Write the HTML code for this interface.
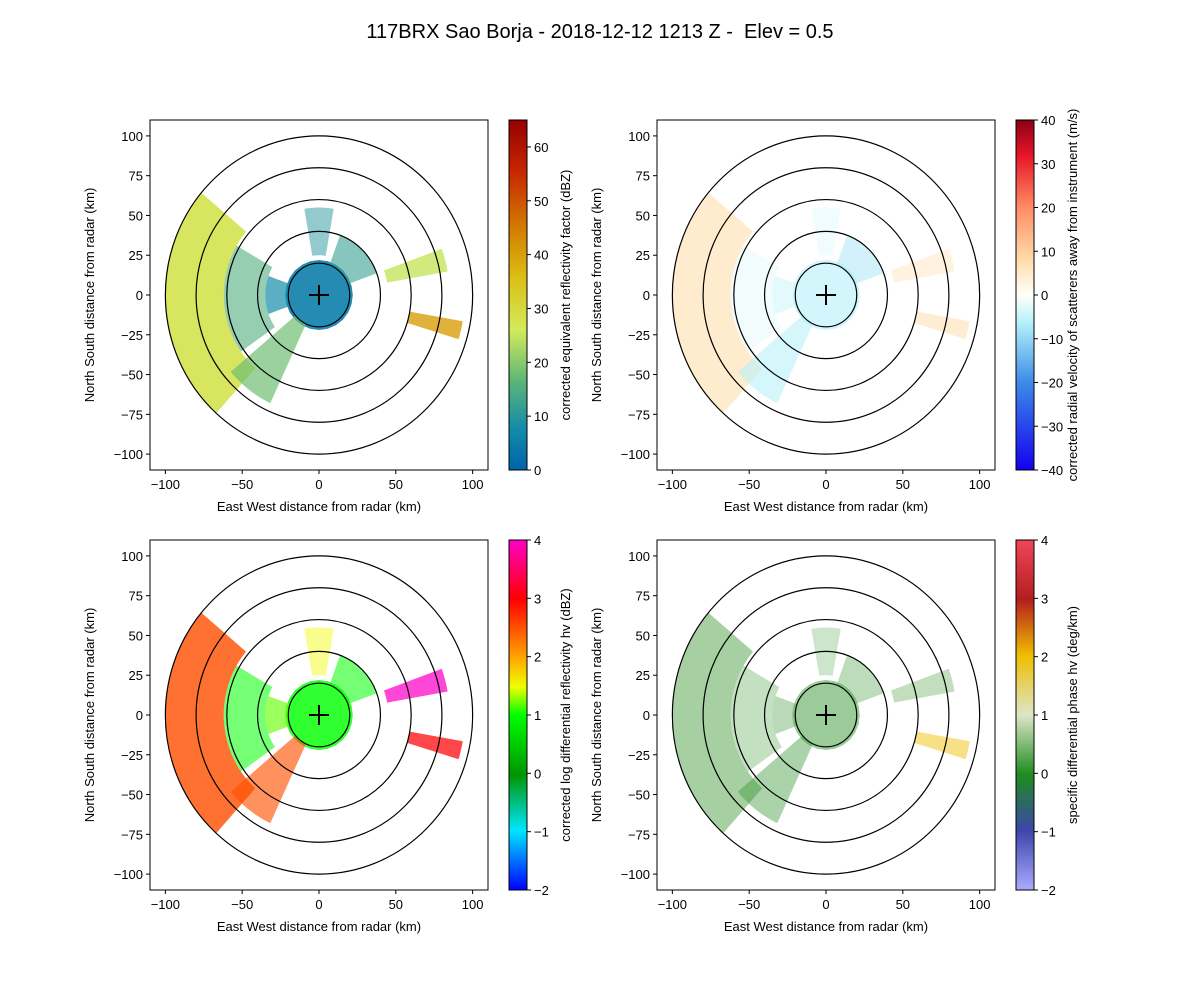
<!DOCTYPE html>
<html><head><meta charset="utf-8">
<style>
html,body{margin:0;padding:0;background:#fff;}
svg{display:block;font-family:"Liberation Sans","DejaVu Sans",sans-serif;}
</style></head>
<body>
<svg id="fig" width="1200" height="1000" viewBox="0 0 1200 1000">
<text x="600" y="38" font-size="20" text-anchor="middle" style="white-space:pre">117BRX Sao Borja - 2018-12-12 1213 Z -  Elev = 0.5</text>
</svg>
<script>
// ---- data ----
const axisTicks = [-100, -50, 0, 50, 100];
const ringRanges = [20, 40, 60, 80, 100];
// echo sectors: azimuth start/end (math deg), range start/end (km)
const echoAz1 = [140, 150, 0, 220, 10, 343, 80, 20, 160];
const echoAz2 = [228, 215, 360, 245, 20, 350, 100, 70, 200];
const echoR1  = [62, 35, 0, 20, 45, 60, 25, 20, 20];
const echoR2  = [100, 62, 22, 75, 85, 95, 55, 40, 35];
const reflectivity = [28, 15, 5, 18, 25, 40, 10, 12, 8];
const velocity     = [6, -2, -5, -6, 4, 6, -3, -8, -4];
const zdrValues    = [2.5, 1, 1, 2.5, 4, 3, 1.5, 1, 1.2];
const kdpValues    = [0.3, 0.3, 0.2, 0.1, 0.5, 2, 0.3, 0.2, 0.3];
const cbarTicks1 = [0, 10, 20, 30, 40, 50, 60];
const cbarTicks2 = [-40, -30, -20, -10, 0, 10, 20, 30, 40];
const cbarTicks3 = [-2, -1, 0, 1, 2, 3, 4];
const cbarTicks4 = [-2, -1, 0, 1, 2, 3, 4];

const NS = "http://www.w3.org/2000/svg";
const fig = document.getElementById('fig');
function mk(tag, attrs, parent){const e=document.createElementNS(NS,tag);for(const k in attrs)e.setAttribute(k,attrs[k]);(parent||fig).appendChild(e);return e;}
function lerp(a,b,t){return a+(b-a)*t;}
function cmap(stops, v, lo, hi){
  const t=Math.max(0,Math.min(1,(v-lo)/(hi-lo)));
  for(let i=0;i<stops.length-1;i++){const a=stops[i],b=stops[i+1];
    if(t>=a[0]&&t<=b[0]){const u=(t-a[0])/(b[0]-a[0]||1);
      return `rgb(${Math.round(lerp(a[1],b[1],u))},${Math.round(lerp(a[2],b[2],u))},${Math.round(lerp(a[3],b[3],u))})`;}}
  const l=stops[stops.length-1];return `rgb(${l[1]},${l[2]},${l[3]})`;
}
const cm1=[[0,0,100,170],[0.12,20,140,170],[0.25,90,180,120],[0.4,210,235,90],[0.55,220,190,20],[0.7,210,120,0],[0.85,200,40,0],[1,150,0,0]];
const cm2=[[0,20,0,240],[0.25,60,140,230],[0.42,180,240,250],[0.5,255,255,250],[0.6,255,220,170],[0.75,255,140,100],[0.9,230,20,40],[1,140,0,20]];
const cm3=[[0,0,0,255],[0.17,0,230,255],[0.33,0,150,0],[0.5,0,255,0],[0.58,240,255,0],[0.67,255,160,0],[0.83,255,0,0],[1,255,0,200]];
const cm4=[[0,170,170,255],[0.17,60,70,170],[0.33,30,140,30],[0.5,220,230,200],[0.67,240,190,0],[0.83,180,30,30],[1,240,70,90]];
const sectorOpacity=[0.9,0.6,0.9,0.7,0.8,0.8,0.5,0.6,0.7];

const panels=[
 {x0:150,y0:120,vals:reflectivity,cm:cm1,lo:0,hi:65,ticks:cbarTicks1,label:"corrected equivalent reflectivity factor (dBZ)",name:"reflectivity",op:1},
 {x0:657,y0:120,vals:velocity,cm:cm2,lo:-40,hi:40,ticks:cbarTicks2,label:"corrected radial velocity of scatterers away from instrument (m/s)",name:"velocity",op:0.85},
 {x0:150,y0:540,vals:zdrValues,cm:cm3,lo:-2,hi:4,ticks:cbarTicks3,label:"corrected log differential reflectivity hv (dBZ)",name:"zdr",op:0.9},
 {x0:657,y0:540,vals:kdpValues,cm:cm4,lo:-2,hi:4,ticks:cbarTicks4,label:"specific differential phase hv (deg/km)",name:"kdp",op:0.6}
];
const W=338,H=350;
panels.forEach(p=>{
  const g=mk('g',{});
  
  
  const sx=v=>p.x0+(v+110)/220*W, sy=v=>p.y0+H-(v+110)/220*H;
  for(let i=0;i<echoAz1.length;i++){
    const a1=echoAz1[i]*Math.PI/180,a2=echoAz2[i]*Math.PI/180,r1=echoR1[i],r2=echoR2[i];
    let d='';const n=24;
    for(let k=0;k<=n;k++){const a=a1+(a2-a1)*k/n;d+=(k?'L':'M')+sx(r2*Math.cos(a))+' '+sy(r2*Math.sin(a));}
    for(let k=n;k>=0;k--){const a=a1+(a2-a1)*k/n;d+='L'+sx(r1*Math.cos(a))+' '+sy(r1*Math.sin(a));}
    const e=mk('path',{d:d+'Z',fill:cmap(p.cm,p.vals[i],p.lo,p.hi),'fill-opacity':sectorOpacity[i]*p.op},g);
    
    
  }
  ringRanges.forEach(r=>{const c=mk('ellipse',{cx:sx(0),cy:sy(0),rx:r/220*W,ry:r/220*H,fill:'none',stroke:'#000','stroke-width':1.2},g);
    
    });
  mk('path',{d:`M${sx(0)-10} ${sy(0)}H${sx(0)+10}M${sx(0)} ${sy(0)-10}V${sy(0)+10}`,stroke:'#000','stroke-width':2},g);
  mk('rect',{x:p.x0,y:p.y0,width:W,height:H,fill:'none',stroke:'#000','stroke-width':1},g);
  const fmt=t=>t===0?'0':(t<0?'\u2212'+(-t):String(t));
  axisTicks.forEach(t=>{
    mk('line',{x1:sx(t),x2:sx(t),y1:p.y0+H,y2:p.y0+H+4,stroke:'#000'},g);
    const tx=mk('text',{x:sx(t),y:p.y0+H+19,'font-size':13,'text-anchor':'middle'},g);tx.textContent=fmt(t);
    
    
  });
  [-100,-75,-50,-25,0,25,50,75,100].forEach(t=>{
    mk('line',{x1:p.x0-4,x2:p.x0,y1:sy(t),y2:sy(t),stroke:'#000'},g);
    const ty=mk('text',{x:p.x0-7,y:sy(t)+5,'font-size':13,'text-anchor':'end'},g);ty.textContent=fmt(t);
    
    
  });
  const xl=mk('text',{x:p.x0+W/2,y:p.y0+H+41,'font-size':13,'text-anchor':'middle'},g);xl.textContent='East West distance from radar (km)';
  
  
  const yl=mk('text',{x:0,y:0,'font-size':13,'text-anchor':'middle',transform:`translate(${p.x0-56},${p.y0+H/2}) rotate(-90)`},g);yl.textContent='North South distance from radar (km)';
  
  
  const cx=p.x0+359,cw=18;
  const gid='grad-'+p.name;
  const lg=mk('linearGradient',{id:gid,x1:0,y1:1,x2:0,y2:0},g);
  p.cm.forEach(s=>mk('stop',{offset:s[0],'stop-color':`rgb(${s[1]},${s[2]},${s[3]})`},lg));
  const cb=mk('rect',{x:cx,y:p.y0,width:cw,height:H,fill:`url(#${gid})`,stroke:'#000','stroke-width':1},g);
  
  
  p.ticks.forEach(t=>{
    const y=p.y0+H-(t-p.lo)/(p.hi-p.lo)*H;
    mk('line',{x1:cx+cw,x2:cx+cw+4,y1:y,y2:y,stroke:'#000'},g);
    const tt=mk('text',{x:cx+cw+7,y:y+5,'font-size':13},g);tt.textContent=fmt(t);
    
    
  });
  const cl=mk('text',{x:0,y:0,'font-size':13,'text-anchor':'middle',transform:`translate(${cx+cw+43},${p.y0+H/2}) rotate(-90)`},g);cl.textContent=p.label;
  
  
});
</script>
</body></html>
